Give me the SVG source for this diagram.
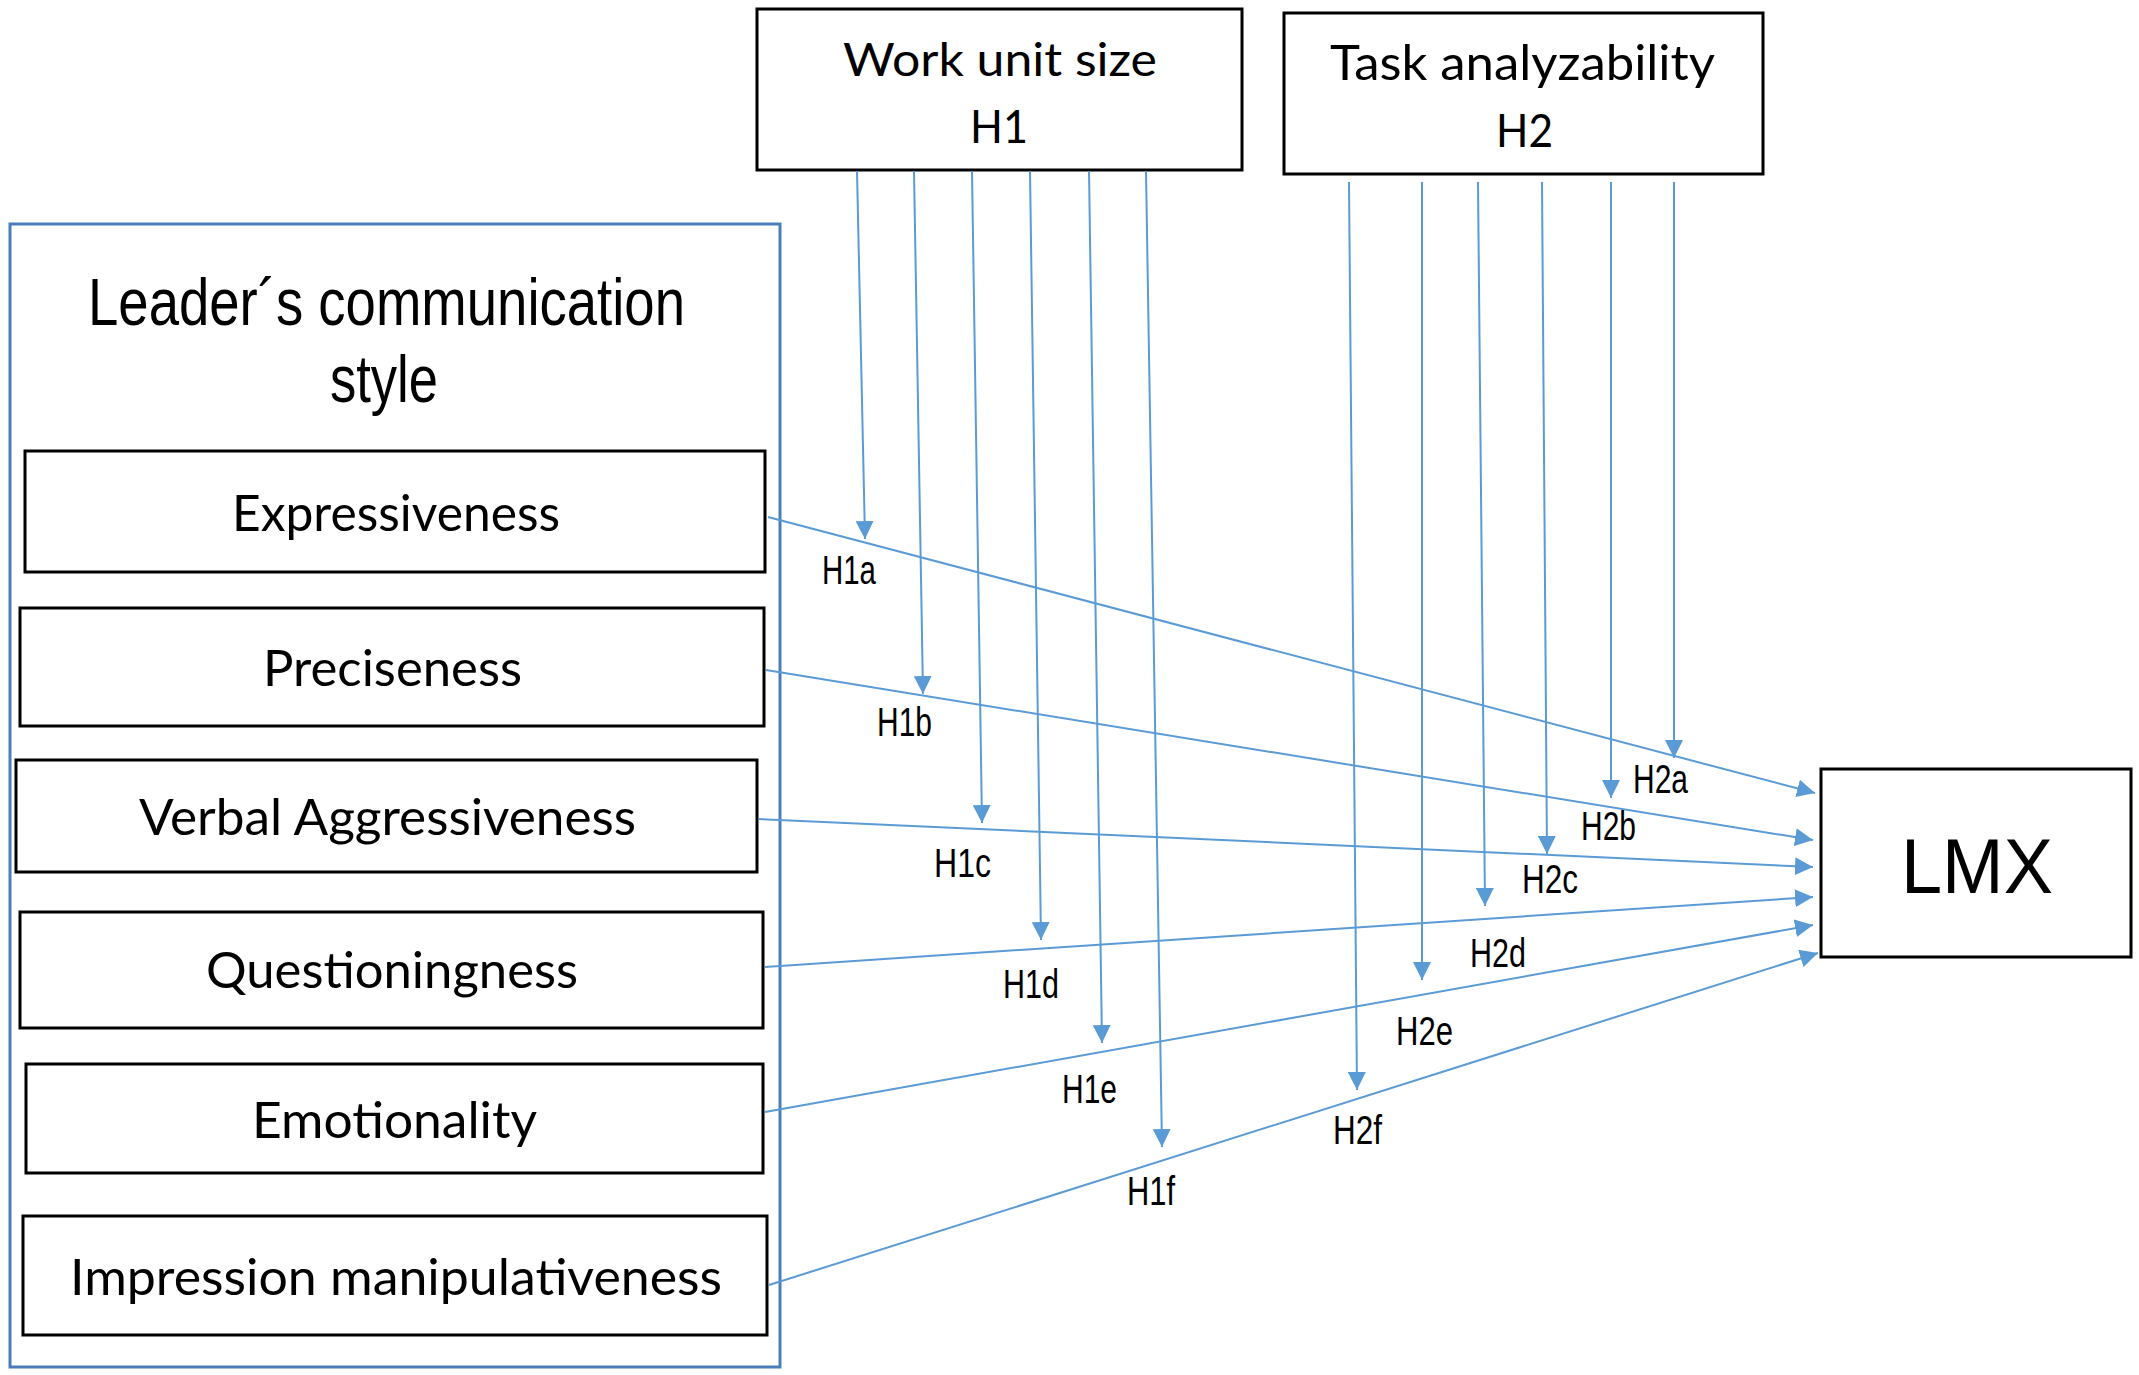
<svg xmlns="http://www.w3.org/2000/svg" width="2139" height="1375" viewBox="0 0 2139 1375">
<style>
.box{fill:#fff;stroke:#000;stroke-width:3}
.cont{fill:none;stroke:#4A7EBB;stroke-width:3}
.lbl{font-family:Lato,"Open Sans",sans-serif;fill:#000}
.nar{font-family:"Liberation Sans",Arial,sans-serif;fill:#000}
.hl{font-family:"Liberation Sans",Arial,sans-serif;font-size:40px;fill:#000}
.ln{stroke:#5B9BD5;stroke-width:2;fill:none;marker-end:url(#ah)}
</style>
<defs>
<marker id="ah" markerUnits="userSpaceOnUse" markerWidth="18" markerHeight="18" refX="18" refY="9" orient="auto">
<path d="M0,0 L18,9 L0,18 z" fill="#5B9BD5"/>
</marker>
</defs>
<rect width="2139" height="1375" fill="#fff"/>
<g id="container">
<rect class="cont" x="10" y="224" width="770" height="1143"/>
<text class="nar" x="88" y="325" font-size="66" textLength="597" lengthAdjust="spacingAndGlyphs">Leader´s communication</text>
<text class="nar" x="330" y="402" font-size="66" textLength="108" lengthAdjust="spacingAndGlyphs">style</text>
</g>
<g id="work-unit-size">
<rect class="box" x="757" y="9" width="485" height="161"/>
<text class="lbl" x="843" y="76" font-size="46" textLength="314" lengthAdjust="spacingAndGlyphs">Work unit size</text>
<text class="lbl" x="970" y="143" font-size="47" textLength="58" lengthAdjust="spacingAndGlyphs">H1</text>
</g>
<g id="task-analyzability">
<rect class="box" x="1284" y="13" width="479" height="161"/>
<text class="lbl" x="1330" y="80" font-size="48" textLength="385" lengthAdjust="spacingAndGlyphs">Task analyzability</text>
<text class="lbl" x="1496" y="147" font-size="46" textLength="57" lengthAdjust="spacingAndGlyphs">H2</text>
</g>
<g id="expressiveness">
<rect class="box" x="25" y="451" width="740" height="121"/>
<text class="lbl" x="232" y="531" font-size="50" textLength="328" lengthAdjust="spacingAndGlyphs">Expressiveness</text>
</g>
<g id="preciseness">
<rect class="box" x="20" y="608" width="744" height="118"/>
<text class="lbl" x="263" y="686" font-size="50" textLength="259" lengthAdjust="spacingAndGlyphs">Preciseness</text>
</g>
<g id="verbal-aggressiveness">
<rect class="box" x="16" y="760" width="741" height="112"/>
<text class="lbl" x="139" y="835" font-size="50" textLength="497" lengthAdjust="spacingAndGlyphs">Verbal Aggressiveness</text>
</g>
<g id="questioningness">
<rect class="box" x="20" y="912" width="743" height="116"/>
<text class="lbl" x="206" y="988" font-size="50" textLength="372" lengthAdjust="spacingAndGlyphs">Questioningness</text>
</g>
<g id="emotionality">
<rect class="box" x="26" y="1064" width="737" height="109"/>
<text class="lbl" x="252" y="1138" font-size="50" textLength="285" lengthAdjust="spacingAndGlyphs">Emotionality</text>
</g>
<g id="impression-manipulativeness">
<rect class="box" x="23" y="1216" width="744" height="119"/>
<text class="lbl" x="70" y="1295" font-size="50" textLength="652" lengthAdjust="spacingAndGlyphs">Impression manipulativeness</text>
</g>
<g id="lmx">
<rect class="box" x="1821" y="769" width="310" height="188"/>
<text class="nar" x="1901" y="893" font-size="78" textLength="152" lengthAdjust="spacingAndGlyphs">LMX</text>
</g>
<g id="connectors">
<line class="ln" x1="768" y1="517" x2="1815" y2="793"/>
<line class="ln" x1="766" y1="670" x2="1813" y2="840"/>
<line class="ln" x1="759" y1="819" x2="1813" y2="867"/>
<line class="ln" x1="765" y1="967" x2="1813" y2="897"/>
<line class="ln" x1="765" y1="1112" x2="1813" y2="925"/>
<line class="ln" x1="769" y1="1285" x2="1818" y2="953"/>
<line class="ln" x1="857" y1="171" x2="865" y2="539"/>
<line class="ln" x1="914" y1="171" x2="923" y2="694"/>
<line class="ln" x1="972" y1="171" x2="982" y2="823"/>
<line class="ln" x1="1030" y1="171" x2="1041" y2="940"/>
<line class="ln" x1="1089" y1="171" x2="1102" y2="1043"/>
<line class="ln" x1="1146" y1="171" x2="1162" y2="1147"/>
<line class="ln" x1="1674" y1="182" x2="1674" y2="758"/>
<line class="ln" x1="1611" y1="182" x2="1611" y2="798"/>
<line class="ln" x1="1542" y1="182" x2="1547" y2="854"/>
<line class="ln" x1="1478" y1="182" x2="1485" y2="906"/>
<line class="ln" x1="1422" y1="182" x2="1422" y2="980"/>
<line class="ln" x1="1349" y1="182" x2="1357" y2="1090"/>
</g>
<g id="labels">
<text class="hl" x="822" y="584" textLength="54" lengthAdjust="spacingAndGlyphs">H1a</text>
<text class="hl" x="877" y="736" textLength="55" lengthAdjust="spacingAndGlyphs">H1b</text>
<text class="hl" x="934" y="877" textLength="57" lengthAdjust="spacingAndGlyphs">H1c</text>
<text class="hl" x="1003" y="998" textLength="56" lengthAdjust="spacingAndGlyphs">H1d</text>
<text class="hl" x="1062" y="1103" textLength="55" lengthAdjust="spacingAndGlyphs">H1e</text>
<text class="hl" x="1127" y="1205" textLength="48" lengthAdjust="spacingAndGlyphs">H1f</text>
<text class="hl" x="1633" y="793" textLength="55" lengthAdjust="spacingAndGlyphs">H2a</text>
<text class="hl" x="1581" y="840" textLength="55" lengthAdjust="spacingAndGlyphs">H2b</text>
<text class="hl" x="1522" y="893" textLength="56" lengthAdjust="spacingAndGlyphs">H2c</text>
<text class="hl" x="1470" y="967" textLength="56" lengthAdjust="spacingAndGlyphs">H2d</text>
<text class="hl" x="1396" y="1045" textLength="57" lengthAdjust="spacingAndGlyphs">H2e</text>
<text class="hl" x="1333" y="1144" textLength="49" lengthAdjust="spacingAndGlyphs">H2f</text>
</g>
</svg>
